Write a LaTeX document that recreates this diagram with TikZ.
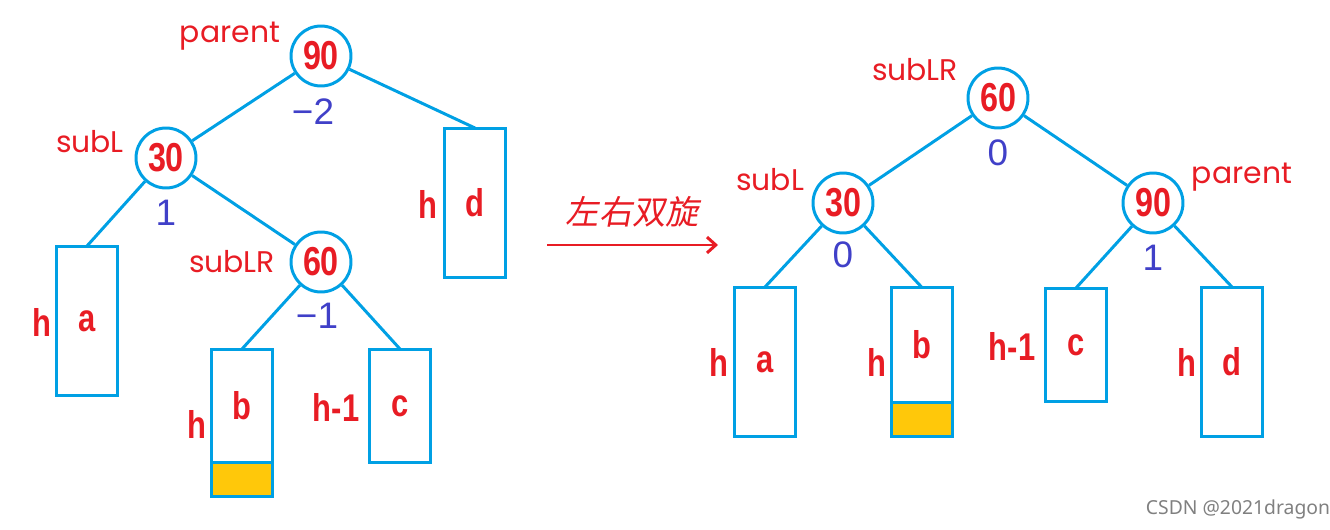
\documentclass[tikz,border=0pt]{standalone}
\usepackage{fontspec}
\setmainfont{Liberation Sans}
\newfontfamily\numfont[FakeStretch=0.8]{Liberation Sans}
\newfontfamily\tagfont{Poppins}
\newfontfamily\cjkfont[FakeSlant=0.18]{Noto Sans CJK SC}
\newfontfamily\markfont{Noto Sans}
\usetikzlibrary{positioning,arrows.meta}
\definecolor{treeblue}{RGB}{0,160,228}
\definecolor{keyred}{RGB}{232,28,36}
\definecolor{bfblue}{RGB}{64,64,200}
\definecolor{fillyellow}{RGB}{255,200,10}

\begin{document}
\begin{tikzpicture}[x=0.02cm, y=-0.02cm,
  key/.style={draw=treeblue, circle, line width=1.7pt, minimum size=1.2cm, inner sep=0pt, text=keyred, font=\numfont\bfseries\fontsize{23}{26}\selectfont},
  subtree/.style={draw=treeblue, line width=1.7pt, minimum width=1.22cm, inner sep=0pt, outer sep=0pt, text=keyred, font=\numfont\bfseries\fontsize{22}{26}\selectfont},
  extra/.style={draw=treeblue, fill=fillyellow, line width=1.7pt, minimum width=1.22cm, minimum height=0.68cm, inner sep=0pt, outer sep=0pt, anchor=north},
  hlbl/.style={text=keyred, font=\numfont\bfseries\fontsize{22}{26}\selectfont, inner sep=0pt},
  tag/.style={text=keyred, font=\tagfont\fontsize{17}{20}\selectfont, inner sep=0pt},
  bf/.style={text=bfblue, font=\fontsize{21}{24}\selectfont, inner sep=0pt},
  edge/.style={draw=treeblue, line width=1.7pt},
  >={Straight Barb[length=5pt, width=9pt]}]
  \useasboundingbox (0,0) rectangle (1330,530);
  % before: left-right case
  \node[key] (p1) at (321,56) {90};
  \node[key] (l1) at (166,158) {30};
  \node[key] (lr1) at (321,262) {60};
  \node[subtree, minimum height=3cm] (d1) at (475,203) {d};
  \node[subtree, minimum height=3cm] (a1) at (87,321) {a};
  \node[subtree, minimum height=2.28cm] (b1) at (242,406) {b};
  \node[extra] (b1x) at (b1.south) {};
  \node[subtree, minimum height=2.28cm] (c1) at (400,406) {c};
  \node[tag] (tp1) at (230,36) {parent};
  \node[tag] (tl1) at (90,142) {subL};
  \node[tag] (tlr1) at (232,262) {subLR};
  \node[bf] (bp1) at (313,112) {−2};
  \node[bf] (bl1) at (166,213) {1};
  \node[bf] (blr1) at (317,316) {−1};
  \node[hlbl] (hd1) at (428,204) {h};
  \node[hlbl] (ha1) at (42,322) {h};
  \node[hlbl] (hb1) at (197,424) {h};
  \node[hlbl] (hc1) at (336,407) {h-1};
  \draw[edge] (p1) -- (l1);
  \draw[edge] (p1) -- (d1.north);
  \draw[edge] (l1) -- (a1.north);
  \draw[edge] (l1) -- (lr1);
  \draw[edge] (lr1) -- (b1.north);
  \draw[edge] (lr1) -- (c1.north);
  % rotation
  \coordinate (arrs) at (547,245);
  \coordinate (arre) at (718,245);
  \draw[->, keyred, line width=1.7pt] (arrs) -- node[above=6pt, font=\cjkfont\fontsize{19}{22}\selectfont] {左右双旋} (arre);
  % after: balanced
  \node[key] (lr2) at (998,98) {60};
  \node[key] (l2) at (843,203) {30};
  \node[key] (p2) at (1153,203) {90};
  \node[subtree, minimum height=3cm] (a2) at (765,362) {a};
  \node[subtree, minimum height=2.3cm] (b2) at (922,345) {b};
  \node[extra] (b2x) at (b2.south) {};
  \node[subtree, minimum height=2.28cm] (c2) at (1076,345) {c};
  \node[subtree, minimum height=3cm] (d2) at (1232,362) {d};
  \node[tag] (tlr2) at (915,70) {subLR};
  \node[tag] (tl2) at (770,180) {subL};
  \node[tag] (tp2) at (1242,177) {parent};
  \node[bf] (blr2) at (998,153) {0};
  \node[bf] (bl2) at (843,255) {0};
  \node[bf] (bp2) at (1153,258) {1};
  \node[hlbl] (ha2) at (719,362) {h};
  \node[hlbl] (hb2) at (877,362) {h};
  \node[hlbl] (hc2) at (1012,346) {h-1};
  \node[hlbl] (hd2) at (1187,362) {h};
  \draw[edge] (lr2) -- (l2);
  \draw[edge] (lr2) -- (p2);
  \draw[edge] (l2) -- (a2.north);
  \draw[edge] (l2) -- (b2.north);
  \draw[edge] (p2) -- (c2.north);
  \draw[edge] (p2) -- (d2.north);
  \node[text=gray, font=\markfont\fontsize{11}{13}\selectfont] (mark) at (1238,509) {CSDN @2021dragon};
\end{tikzpicture}
\end{document}
